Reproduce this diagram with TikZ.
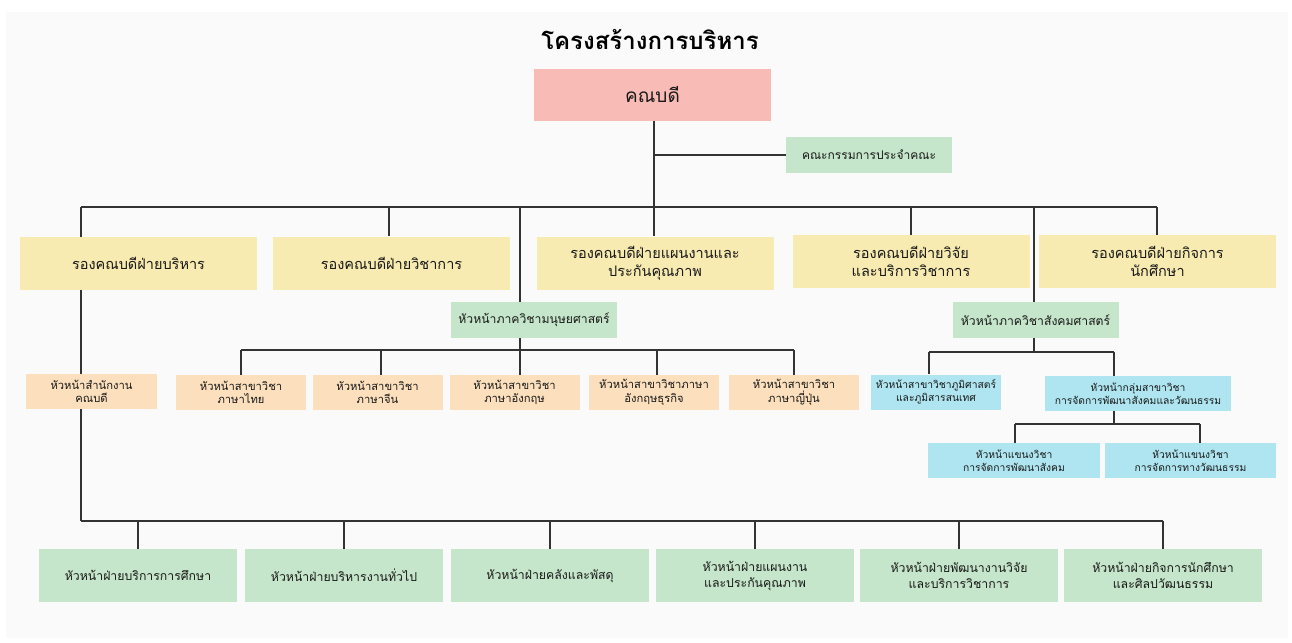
\documentclass[tikz,border=0pt]{standalone}
\usepackage{fontspec}
\setmainfont[Script=Thai]{Loma}
\definecolor{cpink}{HTML}{F9BBB6}
\definecolor{cyel}{HTML}{F8EBB1}
\definecolor{cgreen}{HTML}{C5E6CA}
\definecolor{corange}{HTML}{FCE0BD}
\definecolor{cblue}{HTML}{AEE5F0}
\definecolor{cline}{HTML}{333333}
\definecolor{cpanel}{HTML}{FAFAFA}
\begin{document}
\begin{tikzpicture}[x=1pt,y=-1pt,
  box/.style={rectangle, inner sep=0pt, align=center, text=black!90},
  dean/.style={box, fill=cpink, minimum width=237pt, minimum height=52pt, font=\fontsize{19}{23}\selectfont},
  vice/.style={box, fill=cyel, minimum width=237pt, minimum height=53pt, font=\fontsize{14.5}{18}\selectfont},
  dept/.style={box, fill=cgreen, minimum width=166pt, minimum height=36pt, font=\fontsize{12.2}{15}\selectfont},
  orng/.style={box, fill=corange, minimum width=130pt, minimum height=35pt, font=\fontsize{11.2}{13.5}\selectfont},
  blu/.style={box, fill=cblue, minimum height=35pt, font=\fontsize{10.3}{12.5}\selectfont},
  head/.style={box, fill=cgreen, minimum width=198pt, minimum height=53pt, font=\fontsize{12.3}{16}\selectfont},
  conn/.style={draw=cline, line width=1.1pt}]
\useasboundingbox (0,0) rectangle (1292,642);
\fill[white] (0,0) rectangle (1292,642);
\fill[cpanel] (6,12) rectangle (1288,638);

% title
\node[font=\fontsize{24}{28}\selectfont\bfseries] (title) at (650,40) {โครงสร้างการบริหาร};

% bus coordinates
\coordinate (tl) at (81,207);
\coordinate (tr) at (1157,207);
\coordinate (t2) at (389,207);
\coordinate (t3) at (654,207);
\coordinate (th) at (520,207);
\coordinate (t4) at (911,207);
\coordinate (ts) at (1034,207);
\coordinate (hl) at (241,350);
\coordinate (h2) at (381,350);
\coordinate (h4) at (657,350);
\coordinate (hr) at (794,350);
\coordinate (sl) at (929,352);
\coordinate (sr) at (1114,352);
\coordinate (kl) at (1015,424);
\coordinate (kr) at (1200,424);
\coordinate (bl) at (81,521);
\coordinate (br) at (1163,521);

% nodes
\node[dean] (dean) at (652.5,95) {คณบดี};
\node[dept, font=\fontsize{12}{15}\selectfont] (comm) at (869,155) {คณะกรรมการประจำคณะ};

\node[vice] (v1) at (138.5,263.5) {รองคณบดีฝ่ายบริหาร};
\node[vice] (v2) at (391.5,263) {รองคณบดีฝ่ายวิชาการ};
\node[vice] (v3) at (655,263) {รองคณบดีฝ่ายแผนงานและ\\ประกันคุณภาพ};
\node[vice] (v4) at (911,261.5) {รองคณบดีฝ่ายวิจัย\\และบริการวิชาการ};
\node[vice] (v5) at (1157.5,261.5) {รองคณบดีฝ่ายกิจการ\\นักศึกษา};

\node[dept] (hum) at (534,320) {หัวหน้าภาควิชามนุษยศาสตร์};
\node[dept] (soc) at (1035.5,320) {หัวหน้าภาควิชาสังคมศาสตร์};

\node[orng, minimum width=131pt] (off) at (91.5,391.5) {หัวหน้าสำนักงาน\\คณบดี};
\node[orng] (o1) at (241,392.5) {หัวหน้าสาขาวิชา\\ภาษาไทย};
\node[orng] (o2) at (377.5,392.5) {หัวหน้าสาขาวิชา\\ภาษาจีน};
\node[orng] (o3) at (514.5,392.5) {หัวหน้าสาขาวิชา\\ภาษาอังกฤษ};
\node[orng] (o4) at (654,392.5) {หัวหน้าสาขาวิชาภาษา\\อังกฤษธุรกิจ};
\node[orng] (o5) at (794,392.5) {หัวหน้าสาขาวิชา\\ภาษาญี่ปุ่น};

\node[blu, minimum width=130pt] (bA) at (936,392) {หัวหน้าสาขาวิชาภูมิศาสตร์\\และภูมิสารสนเทศ};
\node[blu, minimum width=186pt] (bB) at (1138,393.5) {หัวหน้ากลุ่มสาขาวิชา\\การจัดการพัฒนาสังคมและวัฒนธรรม};
\node[blu, minimum width=172pt] (bC) at (1014,460.5) {หัวหน้าแขนงวิชา\\การจัดการพัฒนาสังคม};
\node[blu, minimum width=171pt] (bD) at (1190.5,460.5) {หัวหน้าแขนงวิชา\\การจัดการทางวัฒนธรรม};

\node[head] (g1) at (138,575.5) {หัวหน้าฝ่ายบริการการศึกษา};
\node[head] (g2) at (344,575.5) {หัวหน้าฝ่ายบริหารงานทั่วไป};
\node[head] (g3) at (550,575.5) {หัวหน้าฝ่ายคลังและพัสดุ};
\node[head] (g4) at (755,575.5) {หัวหน้าฝ่ายแผนงาน\\และประกันคุณภาพ};
\node[head] (g5) at (959,575.5) {หัวหน้าฝ่ายพัฒนางานวิจัย\\และบริการวิชาการ};
\node[head] (g6) at (1163,575.5) {หัวหน้าฝ่ายกิจการนักศึกษา\\และศิลปวัฒนธรรม};

% connectors
\path[conn] (dean.south -| t3) -- (t3 |- v3.north);
\path[conn] (comm.west -| t3) -- (comm.west);
\path[conn] (tl) -- (tr);
\path[conn] (tl) -- (tl |- v1.north);
\path[conn] (t2) -- (t2 |- v2.north);
\path[conn] (t4) -- (t4 |- v4.north);
\path[conn] (tr) -- (tr |- v5.north);
\path[conn] (th) -- (th |- hum.north);
\path[conn] (ts) -- (ts |- soc.north);
% humanities
\path[conn] (hum.south -| th) -- (th |- o3.north);
\path[conn] (hl) -- (hr);
\path[conn] (hl) -- (hl |- o1.north);
\path[conn] (h2) -- (h2 |- o2.north);
\path[conn] (h4) -- (h4 |- o4.north);
\path[conn] (hr) -- (hr |- o5.north);
% social
\path[conn] (soc.south -| ts) -- (ts |- sl);
\path[conn] (sl) -- (sr);
\path[conn] (sl) -- (sl |- bA.north);
\path[conn] (sr) -- (sr |- bB.north);
\path[conn] (bB.south -| sr) -- (sr |- kl);
\path[conn] (kl) -- (kr);
\path[conn] (kl) -- (kl |- bC.north);
\path[conn] (kr) -- (kr |- bD.north);
% administration
\path[conn] (v1.south -| tl) -- (tl |- off.north);
\path[conn] (off.south -| tl) -- (bl);
\path[conn] (bl) -- (br);
\path[conn] (bl -| g1.north) -- (g1.north);
\path[conn] (bl -| g2.north) -- (g2.north);
\path[conn] (bl -| g3.north) -- (g3.north);
\path[conn] (bl -| g4.north) -- (g4.north);
\path[conn] (bl -| g5.north) -- (g5.north);
\path[conn] (br) -- (g6.north);
\end{tikzpicture}
\end{document}
